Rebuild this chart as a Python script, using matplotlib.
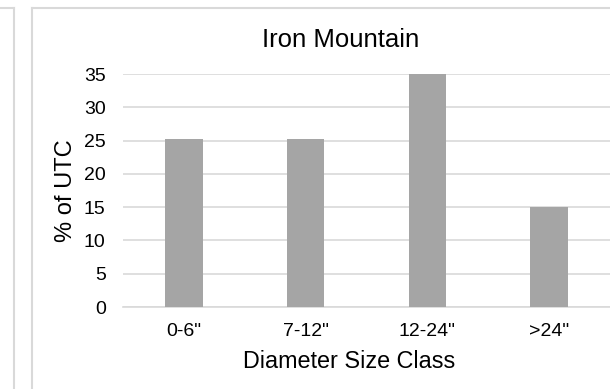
import numpy as np
import matplotlib.pyplot as plt
from matplotlib.lines import Line2D

plt.rcParams['font.family'] = ['Liberation Sans', 'DejaVu Sans']

# datos
clases = ['0-6"', '7-12"', '12-24"', '>24"']
porcentaje = [25.3, 25.2, 35.0, 15.0]
ticks_y = [0, 5, 10, 15, 20, 25, 30, 35]

W, H = 610, 389
fig = plt.figure(figsize=(W/100, H/100), dpi=100)

# ejes en pixeles -> fraccion de figura
izq, der, abajo, arriba = 123, 610, 307, 74
ax = fig.add_axes([izq/W, 1 - abajo/H, (der - izq)/W, (abajo - arriba)/H])

x = np.arange(len(clases))
ax.bar(x, porcentaje, width=0.31, color='#a5a5a5', zorder=3)

ax.set_xlim(-0.5, len(clases) - 0.5)
ax.set_ylim(0, 35)
ax.set_yticks(ticks_y)
ax.set_xticks(x)
ax.set_xticklabels(clases)
ax.tick_params(axis='both', length=0, labelsize=14, colors='#000000')
ax.tick_params(axis='y', pad=12.5)
ax.tick_params(axis='x', pad=11.5)
ax.grid(axis='y', color='#d9d9d9', linewidth=1.2, zorder=0)
for s in ['top', 'right', 'left']:
    ax.spines[s].set_visible(False)
ax.spines['bottom'].set_color('#d9d9d9')
ax.spines['bottom'].set_linewidth(1.2)

# titulos (posiciones en pixeles)
fig.text(340.5/W, 1 - 47.3/H, 'Iron Mountain', ha='center', va='baseline', fontsize=18.5)
fig.text(349.5/W, 1 - 367.5/H, 'Diameter Size Class', ha='center', va='baseline', fontsize=16.8)
fig.text(66/W, 1 - 191/H, '% of UTC', ha='center', va='center', rotation=90, fontsize=17)

# marcos de los graficos
gris = '#d9d9d9'
fig.add_artist(Line2D([13.8/W, 13.8/W], [0, 1 - 8.3/H], transform=fig.transFigure, color=gris, lw=1.5))
fig.add_artist(Line2D([0, 13.8/W], [1 - 8.3/H, 1 - 8.3/H], transform=fig.transFigure, color=gris, lw=1.5))
fig.add_artist(Line2D([32/W, 32/W], [0, 1 - 8.3/H], transform=fig.transFigure, color=gris, lw=1.5))
fig.add_artist(Line2D([32/W, 1], [1 - 8.3/H, 1 - 8.3/H], transform=fig.transFigure, color=gris, lw=1.5))

fig.savefig('out.png', dpi=100)
